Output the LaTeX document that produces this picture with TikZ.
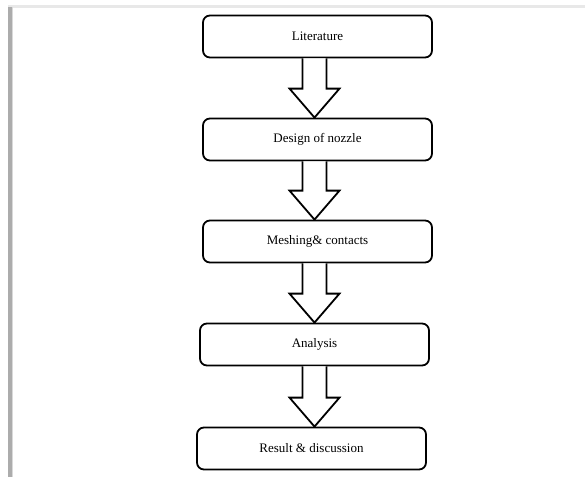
\documentclass[tikz,border=0pt]{standalone}
\usepackage{fontspec}
\setmainfont{Liberation Serif}
\usetikzlibrary{calc}
\tikzset{
  stepbox/.style={draw, line width=1.8pt, rounded corners=7pt,
    minimum width=229pt, minimum height=42pt,
    font=\fontsize{13}{15}\selectfont},
  blockarr/.style={draw, line width=1.8pt, fill=white, line join=miter},
}
\newcommand\flowarrow[2]{%
  \draw[blockarr] let \p1=(#1.south -| col), \p2=(#2.north -| col) in
    (\x1-12pt,\y1) -- (\x1-12pt,\y2+29pt) -- (\x1-25pt,\y2+29pt) -- (\x2,\y2)
    -- (\x1+25pt,\y2+29pt) -- (\x1+12pt,\y2+29pt) -- (\x1+12pt,\y1);}
\begin{document}
\begin{tikzpicture}[x=1pt,y=-1pt]
\useasboundingbox (0,0) rectangle (587,477);
% page edges
\fill[gray!18] (8,5) rectangle (585,7.5);
\fill[gray!65] (8,7) rectangle (11.5,477);
\fill[gray!30] (11.5,7) rectangle (12.5,477);
% boxes
\coordinate (col) at (314.5,0);
\node[stepbox] (lit) at (317.5,36.5) {Literature};
\node[stepbox] (design) at (317.5,139.5) {Design of nozzle};
\node[stepbox] (mesh) at (317.5,241.5) {Meshing\& contacts};
\node[stepbox] (analysis) at (314.5,344.5) {Analysis};
\node[stepbox] (result) at (311.5,448.5) {Result \& discussion};
% arrows
\flowarrow{lit}{design}
\flowarrow{design}{mesh}
\flowarrow{mesh}{analysis}
\flowarrow{analysis}{result}
\end{tikzpicture}
\end{document}
